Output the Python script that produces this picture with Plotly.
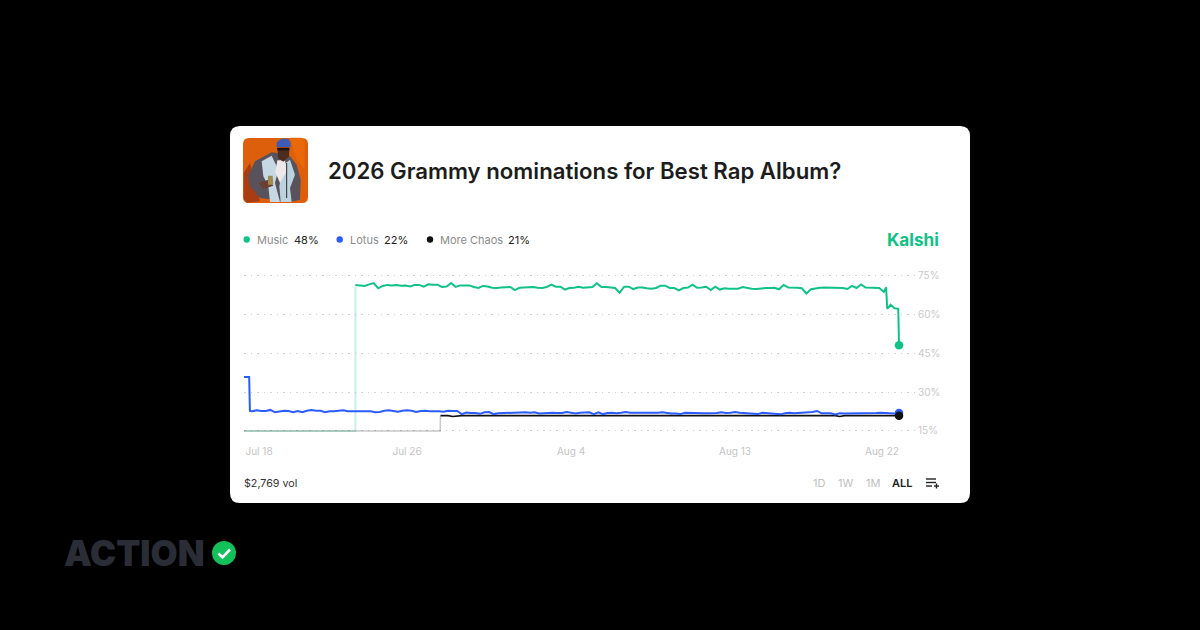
import pandas as pd
import plotly.graph_objects as go

# values, percent
music_values = [
    71.2, 70.9, 70.8, 71.4, 71.9, 69.9, 70.8, 71.2, 71.0, 71.2,
    70.9, 71.0, 70.6, 71.2, 71.2, 70.5, 71.4, 71.3, 71.3, 70.4,
    70.6, 71.9, 70.4, 71.0, 71.0, 71.0, 70.4, 70.0, 70.8, 70.6,
    70.1, 70.0, 70.2, 70.4, 70.4, 69.2, 70.1, 70.2, 70.2, 70.4,
    70.1, 70.0, 70.4, 71.3, 70.5, 70.5, 69.4, 70.0, 70.1, 70.5,
    70.1, 70.2, 70.4, 71.8, 70.4, 70.4, 70.2, 70.0, 68.2, 70.5,
    70.5, 69.6, 70.2, 70.2, 69.9, 69.7, 70.0, 70.9, 70.9, 70.0,
    70.0, 69.1, 70.0, 70.2, 71.3, 70.1, 70.2, 70.5, 69.2, 70.5,
    69.4, 69.9, 69.7, 69.6, 69.7, 70.4, 70.0, 69.7, 69.6, 69.9,
    70.0, 70.0, 70.1, 69.5, 71.2, 70.2, 70.2, 70.1, 69.9, 67.9,
    69.5, 69.9, 70.1, 70.2, 70.2, 70.2, 70.2, 70.0, 69.6, 70.8,
    70.0, 71.4, 70.2, 70.1, 70.2, 70.0, 68.5,
    70.3, 62.0, 63.6, 62.2, 62.0, 48.0,
]
music_tail_dates = ["2025-08-21 07:00", "2025-08-21 08:30", "2025-08-21 13:00",
                    "2025-08-21 18:00", "2025-08-21 23:00", "2025-08-22 00:00"]

lotus_values = [
    35.8, 35.8, 22.7,
    22.6, 23.0, 22.7, 22.7, 23.1, 22.2, 22.6, 22.8, 22.7, 22.2,
    22.7, 22.2, 22.8, 23.1, 22.8, 22.8, 22.2, 22.6, 22.6, 22.7,
    23.0, 22.6, 22.6, 22.7, 22.7, 22.7, 22.6, 22.2, 22.3, 22.8,
    23.0, 22.7, 22.4, 22.8, 23.0, 22.8, 22.3, 22.7, 22.8, 22.6,
    22.7, 22.6, 22.4, 22.8, 22.7, 22.7, 21.5, 22.1, 21.9, 21.9,
    21.6, 22.2, 22.3, 21.5, 21.8, 21.9, 22.0, 21.9, 22.0, 22.3,
    22.2, 22.0, 22.2, 21.7, 21.8, 22.0, 22.0, 21.9, 21.9, 22.3,
    22.0, 21.7, 22.0, 22.0, 22.2, 21.5, 22.2, 21.5, 21.9, 22.0,
    21.8, 22.0, 22.3, 22.0, 22.0, 22.0, 21.9, 21.9, 22.0, 22.0,
    22.2, 21.9,
    21.7, 21.7, 21.5, 22.0, 21.9, 21.9, 21.8, 21.8, 21.8, 21.8,
    21.9, 22.2, 21.9, 22.0, 22.3, 22.0, 21.9, 21.8, 21.7, 21.5,
    22.0, 21.9, 21.8, 21.7, 21.4, 21.8, 22.0, 21.8, 21.9, 22.0,
    22.2, 22.3, 22.7, 21.8, 21.8, 21.8, 21.4, 21.8, 21.7, 21.7,
    21.8, 21.9, 21.9, 21.7, 21.7, 21.9, 22.0, 21.9, 21.7, 21.7,
    21.9,
]
lotus_head_dates = ["2025-07-17 01:12", "2025-07-17 08:00", "2025-07-17 09:00"]

chaos_values = [
    20.9,
    20.9, 20.9, 20.6, 20.8, 20.9, 20.9, 20.9, 20.9, 20.9, 20.9,
    20.9, 20.9, 20.9, 20.9, 20.9, 20.9, 20.9, 20.9, 20.9, 20.9,
    20.9, 20.9, 20.9, 20.9, 20.7, 20.9, 20.9, 20.9, 20.9, 20.9,
    20.9, 20.9, 20.7, 20.9, 20.9, 20.7, 20.9, 20.9, 20.9, 20.9,
    20.9, 20.9, 20.9, 20.9, 20.9, 20.9, 20.9, 20.7, 20.9, 20.9,
    20.9, 20.9, 20.9, 20.9, 20.9, 20.9, 20.9, 20.9, 20.9, 20.9,
    20.9, 20.9, 20.9, 20.9, 20.9, 20.9, 20.9, 20.9, 20.9, 20.7,
    20.9, 20.9, 20.9, 20.9, 20.9, 20.9, 20.9, 20.9, 20.9, 20.9,
    20.9, 20.9, 20.7, 20.9, 20.9, 20.9, 20.9, 20.6, 20.9, 20.9,
    20.9, 20.9, 20.9, 20.9, 20.9, 20.9, 20.9, 20.9, 20.8, 20.9,
    20.9,
]
chaos_head_date = ["2025-07-27 20:00"]

# faint lead-in before each market opens
music_pale_dates = ["2025-07-17 01:12", "2025-07-23 04:00", "2025-07-23 04:00"]
music_pale_values = [15, 15, 71.2]
chaos_pale_dates = ["2025-07-17 01:12", "2025-07-27 19:40", "2025-07-27 20:00"]
chaos_pale_values = [15, 15, 20.9]

y_ticks = [15, 30, 45, 60, 75]
y_tick_labels = ["15%", "30%", "45%", "60%", "75%"]
x_ticks = ["2025-07-17 21:00", "2025-07-26", "2025-08-04", "2025-08-13"]
x_tick_labels = ["Jul 18", "Jul 26", "Aug 4", "Aug 13"]
last_tick = "2025-08-22"
last_tick_label = "Aug 22"

legend_names = ["Music", "Lotus", "More Chaos"]
legend_pcts = ["48%", "22%", "21%"]
range_buttons = ["1D", "1W", "1M", "ALL"]

GREEN = "#10c285"
BLUE = "#2b5cff"
BLACK = "#111111"
FONT = "Inter"


def six_hourly(start, end):
    return list(pd.date_range(start, end, freq="6h").strftime("%Y-%m-%d %H:%M"))


music_dates = six_hourly("2025-07-23 04:00", "2025-08-21 04:00") + music_tail_dates
lotus_dates = lotus_head_dates + six_hourly("2025-07-17 12:00", "2025-08-22 00:00")
chaos_dates = chaos_head_date + six_hourly("2025-07-28 00:00", "2025-08-22 00:00")


# canvas pixels to paper fractions
def px(x):
    return x / 1200


def py(y):
    return 1 - y / 630


def poly(points):
    return "M " + " L ".join(f"{px(x)},{py(y)}" for x, y in points) + " Z"


def round_rect(x0, y0, x1, y1, r):
    return (f"M {px(x0 + r)},{py(y0)} L {px(x1 - r)},{py(y0)} Q {px(x1)},{py(y0)} {px(x1)},{py(y0 + r)} "
            f"L {px(x1)},{py(y1 - r)} Q {px(x1)},{py(y1)} {px(x1 - r)},{py(y1)} "
            f"L {px(x0 + r)},{py(y1)} Q {px(x0)},{py(y1)} {px(x0)},{py(y1 - r)} "
            f"L {px(x0)},{py(y0 + r)} Q {px(x0)},{py(y0)} {px(x0 + r)},{py(y0)} Z")


def fill_shape(path, color):
    return dict(type="path", path=path, xref="paper", yref="paper", fillcolor=color,
                line_width=0, layer="below")


def stroke_shape(points, color, width):
    path = "M " + " L ".join(f"{px(x)},{py(y)}" for x, y in points)
    return dict(type="path", path=path, xref="paper", yref="paper",
                line=dict(color=color, width=width), layer="below")


def dot(cx, cy, r, color):
    return dict(type="circle", xref="paper", yref="paper", x0=px(cx - r), x1=px(cx + r),
                y0=py(cy + r), y1=py(cy - r), fillcolor=color, line_width=0, layer="below")


def thumb(points):
    return [(240 + x / 3, 133 + y / 3) for x, y in points]


def label(x, y, text, size=11, color="#222222", anchor="left", weight=400):
    return dict(text=text, x=px(x), y=py(y), xref="paper", yref="paper", showarrow=False,
                borderpad=0, borderwidth=0, xanchor=anchor, yanchor="middle",
                font=dict(family=FONT, size=size, color=color, weight=weight))


shapes = [
    fill_shape(round_rect(230, 126, 970, 503, 10), "#ffffff"),
    # album thumbnail
    fill_shape(round_rect(243, 138, 308, 203, 6), "#dd5f0b"),
    fill_shape(poly(thumb([(11, 120), (30, 90), (60, 205), (20, 209), (11, 198)])), "#a83c12"),
    fill_shape(poly(thumb([(150, 14), (185, 14), (194, 25), (194, 110), (170, 80)])), "#e8680a"),
    fill_shape(poly(thumb([(25, 130), (45, 85), (95, 58), (125, 62), (150, 70), (170, 95), (182, 140),
                           (180, 200), (150, 207), (60, 195), (30, 160)])), "#57525c"),
    fill_shape(poly(thumb([(65, 85), (95, 68), (115, 110), (105, 150), (120, 207), (90, 207), (85, 160), (70, 130)])),
               "#c5d8e4"),
    fill_shape(poly(thumb([(130, 95), (150, 80), (165, 125), (150, 165), (155, 207), (122, 207), (118, 160)])),
               "#bcd2df"),
    fill_shape(poly(thumb([(112, 82), (135, 82), (140, 115), (120, 150), (106, 118)])), "#efe8e8"),
    fill_shape(poly(thumb([(112, 45), (148, 45), (147, 70), (130, 86), (115, 76)])), "#4a2c20"),
    fill_shape(poly(thumb([(112, 44), (148, 44), (148, 52), (112, 52)])), "#1c1412"),
    fill_shape(poly(thumb([(110, 28), (125, 17), (145, 17), (152, 30), (152, 42), (110, 42)])), "#3c5cb5"),
    fill_shape(poly(thumb([(55, 150), (85, 140), (100, 158), (70, 168)])), "#6b4030"),
    fill_shape(poly(thumb([(84, 128), (98, 128), (100, 155), (84, 155)])), "#a08a50"),
    stroke_shape(thumb([(140, 90), (140, 195)]), "#2a2a2e", 1),
    # add-series icon and branding
    stroke_shape([(926, 479), (936, 479)], "#222222", 1.4),
    stroke_shape([(926, 482.5), (936, 482.5)], "#222222", 1.4),
    stroke_shape([(926, 486), (932, 486)], "#222222", 1.4),
    stroke_shape([(934, 486), (939, 486)], "#222222", 1.4),
    stroke_shape([(936.5, 483.5), (936.5, 488.5)], "#222222", 1.4),
    dot(224, 553, 12, "#14c05a"),
    stroke_shape([(218.5, 553.5), (222.5, 557.5), (230, 549.5)], "#ffffff", 2.6),
]

annotations = [
    label(328, 171, "2026 Grammy nominations for Best Rap Album?", size=22.2, color="#1c1c1c", weight=600),
    label(887, 239, "Kalshi", size=17.2, color=GREEN, weight=700),
    label(244, 483, "$2,769 vol", size=10.7, color="#333333"),
    label(64, 553, "ACTION", size=35, color="#2a2d36", weight=900),
    dict(text=last_tick_label, x=last_tick, y=py(451), xref="x", yref="paper", showarrow=False,
         borderpad=0, borderwidth=0, xanchor="right", yanchor="middle",
         font=dict(family=FONT, size=10, color="#c4c4c4")),
]

legend_layout = [(246.7, 256.7, 294, GREEN), (339.7, 349.7, 384.3, BLUE), (430, 440, 508, BLACK)]
for name, pct, (dot_x, name_x, pct_x, color) in zip(legend_names, legend_pcts, legend_layout):
    shapes.append(dot(dot_x, 239.5, 3.2, color))
    annotations.append(label(name_x, 239.5, name, color="#8c8c8c"))
    annotations.append(label(pct_x, 239.5, pct, color="#222222"))

for text, right_x in zip(range_buttons, [825, 853, 880, 912]):
    active = text == "ALL"
    annotations.append(label(right_x, 483, text, anchor="right", color="#222222" if active else "#c0c0c0",
                             weight=600 if active else 400))

fig = go.Figure()
fig.add_trace(go.Scatter(x=music_pale_dates, y=music_pale_values, mode="lines",
                         line=dict(color=GREEN, width=2), opacity=0.22))
fig.add_trace(go.Scatter(x=chaos_pale_dates, y=chaos_pale_values, mode="lines",
                         line=dict(color=BLACK, width=1.5), opacity=0.22))
for dates, values, color, width in [(music_dates, music_values, GREEN, 2),
                                    (chaos_dates, chaos_values, BLACK, 1.6),
                                    (lotus_dates, lotus_values, BLUE, 2)]:
    fig.add_trace(go.Scatter(x=dates, y=values, mode="lines", line=dict(color=color, width=width)))
for dates, values, color in [(music_dates, music_values, GREEN),
                             (lotus_dates, lotus_values, BLUE),
                             (chaos_dates, chaos_values, BLACK)]:
    fig.add_trace(go.Scatter(x=dates[-1:], y=values[-1:], mode="markers",
                             marker=dict(color=color, size=8.5), cliponaxis=False))

fig.update_layout(
    width=1200,
    height=630,
    margin=dict(l=0, r=0, t=0, b=0),
    paper_bgcolor="#000000",
    plot_bgcolor="rgba(0,0,0,0)",
    showlegend=False,
    shapes=shapes,
    annotations=annotations,
    xaxis=dict(
        domain=[px(244), px(917)],
        range=["2025-07-17 01:12", "2025-08-22 23:42"],
        tickvals=x_ticks,
        ticktext=x_tick_labels,
        showgrid=False,
        zeroline=False,
        showline=False,
        ticks="outside",
        ticklen=1,
        tickcolor="rgba(0,0,0,0)",
        tickfont=dict(family=FONT, size=10, color="#c4c4c4"),
    ),
    yaxis=dict(
        domain=[py(441), py(265)],
        range=[11.15, 78.85],
        side="right",
        tickvals=y_ticks,
        ticktext=y_tick_labels,
        ticks="",
        showgrid=True,
        gridcolor="#cfcfcf",
        gridwidth=1.3,
        griddash="1.5px,5px",
        zeroline=False,
        showline=False,
        tickfont=dict(family=FONT, size=10, color="#c8c8c8"),
    ),
)

# drop the browser's default page margin
fig.write_html("out.html", config=dict(displayModeBar=False),
               post_script="document.body.style.margin='0';document.body.style.background='#000';")
